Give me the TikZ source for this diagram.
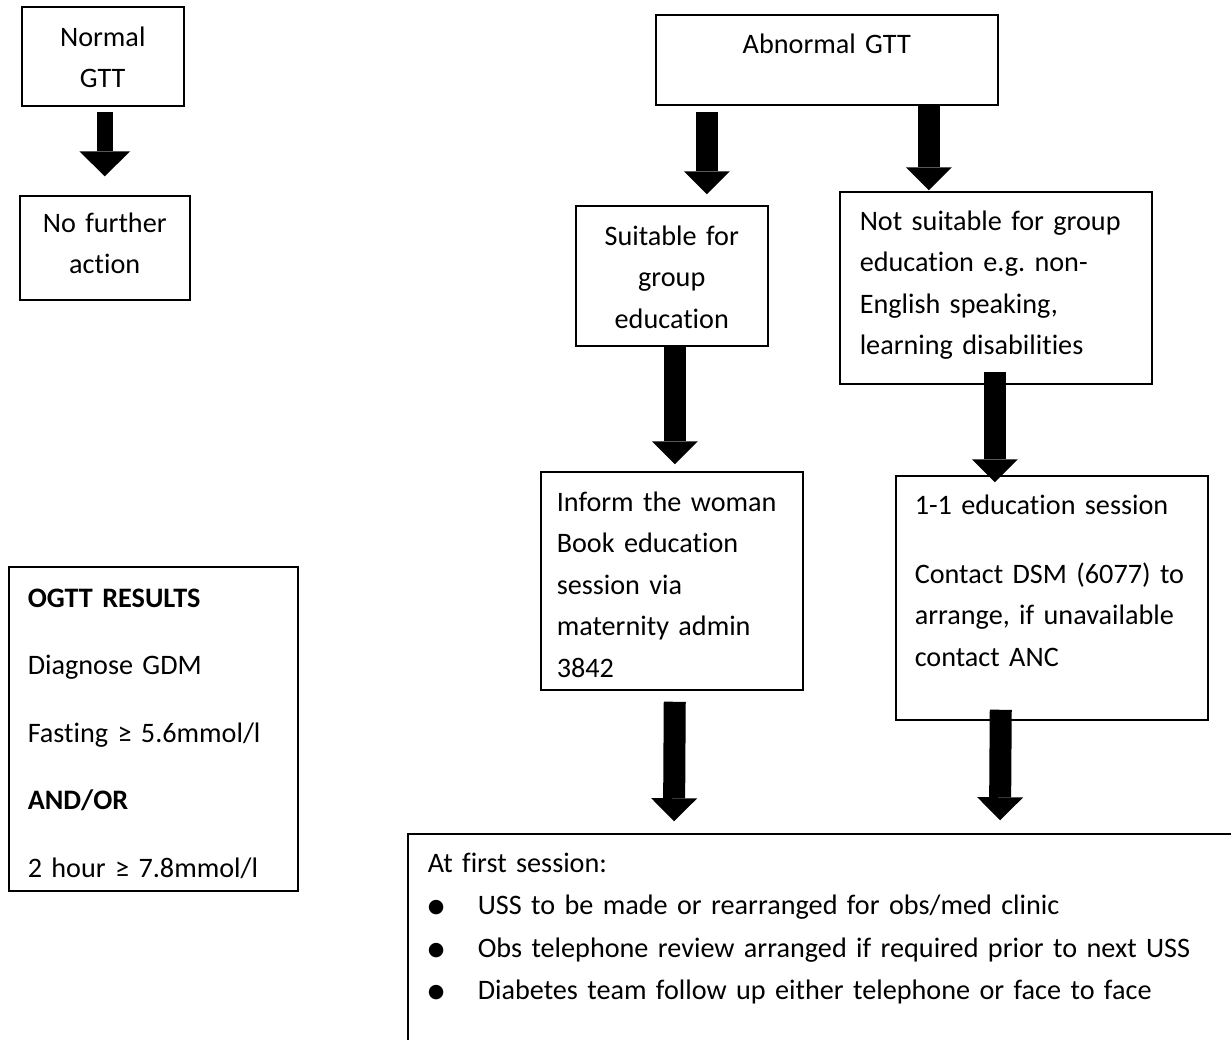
\documentclass[tikz,border=0pt]{standalone}
\usepackage{fontspec}
\setmainfont{Carlito}[Ligatures=NoCommon]
\newfontfamily\dotfont{DejaVu Sans}
\usetikzlibrary{arrows.meta,calc}
\frenchspacing
\newcommand{\itm}[1]{\makebox[50pt][l]{\raisebox{2pt}{\dotfont\fontsize{19}{19}\selectfont ●}}#1}
\tikzset{
  box/.style={draw,line width=1.5pt,anchor=base west,inner ysep=0pt,inner xsep=0pt,font=\fontsize{28.2}{41.5}\selectfont},
  blk/.style={line width=22pt,-{Triangle[length=23pt 0 0,width=46pt 0 0,line width=0pt 0 0]}},
  wide/.style={line width=16pt,-{Triangle[length=25pt 0 0,width=51pt 0 0,line width=0pt 0 0]}}
}
\begin{document}
\begin{tikzpicture}[x=1pt,y=-1pt]
  \useasboundingbox (0,0) rectangle (1231,1039);
  % left column
  \node[box,align=center,text width=162pt,text height=39pt,text depth=60pt] (ngtt) at (21,46) {Normal\\GTT};
  \node[box,align=center,text width=170pt,text height=36pt,text depth=68pt] (nfa) at (19,232) {No further\\action};
  \node[box,align=left,inner xsep=19pt,text width=251pt,text height=40pt,text depth=284pt] (ogtt) at (8,607)
    {\textbf{OGTT RESULTS}\\[26pt]Diagnose GDM\\[26pt]Fasting ≥ 5.6mmol/l\\[26pt]\textbf{AND/OR}\\[26pt]2 hour ≥ 7.8mmol/l};
  % right column
  \node[box,align=center,text width=342pt,text height=38pt,text depth=52pt] (agtt) at (655,53) {Abnormal GTT};
  \node[box,align=center,text width=192pt,text height=39pt,text depth=101pt] (suit) at (575,245) {Suitable for\\group\\education};
  \node[box,align=left,inner xsep=20pt,text width=272pt,text height=38pt,text depth=154pt] (nsuit) at (839,230)
    {Not suitable for group\\education e.g. non-\\English speaking,\\learning disabilities};
  \node[box,align=left,inner xsep=16pt,text width=230pt,text height=39pt,text depth=179pt] (inform) at (540,511)
    {Inform the woman\\Book education\\session via\\maternity admin\\3842};
  \node[box,align=left,inner xsep=19pt,text width=274pt,text height=38pt,text depth=206pt] (one) at (895,514)
    {1-1 education session\\[27.5pt]Contact DSM (6077) to\\arrange, if unavailable\\contact ANC};
  \node[box,align=left,inner xsep=20pt,text width=820pt,text height=38pt,text depth=240pt] (first) at (407,872)
    {At first session:\\[1pt]
     \itm{USS to be made or rearranged for obs/med clinic}\\[1pt]
     \itm{Obs telephone review arranged if required prior to next USS}\\[1pt]
     \itm{Diabetes team follow up either telephone or face to face}};
  % block arrows
  \draw[wide] ($(ngtt.south)+(2,5)$) -- ($(nfa.north)+(0,-19)$);
  \draw[blk] ($(agtt.south)+(-120,6)$) -- ($(suit.north)+(35,-11)$);
  \draw[blk] ($(agtt.south)+(102,0)$) -- ($(nsuit.north)+(-67,-1)$);
  \draw[blk] ($(suit.south)+(3,0)$) -- ($(inform.north)+(3,-7)$);
  \draw[blk] ($(nsuit.south)+(-1,-13)$) -- ($(one.north)+(-57,7)$);
  \draw[blk] ($(inform.south)+(3,11)$) -- ($(first.north west)+(267,-12)$);
  \draw[blk] ($(one.south)+(-51,-11)$) -- ($(first.north west)+(593,-13)$);
\end{tikzpicture}
\end{document}
